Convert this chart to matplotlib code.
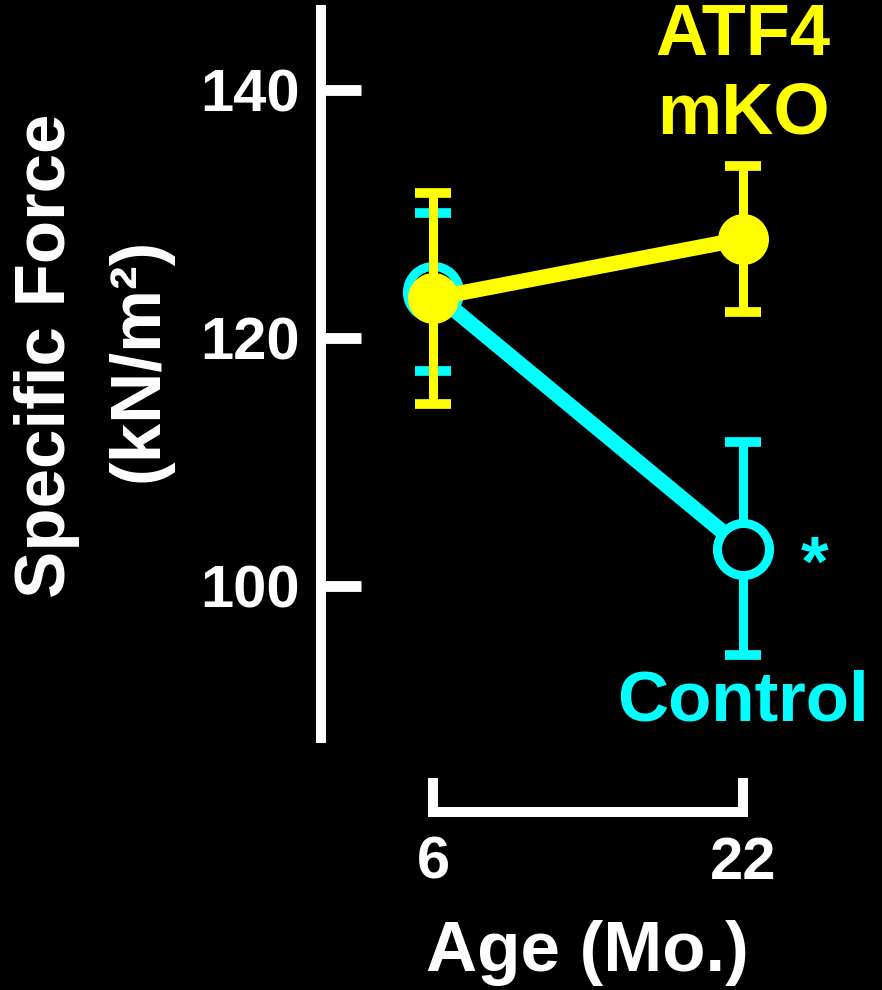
import matplotlib
matplotlib.use("Agg")
import matplotlib.pyplot as plt

# data
ages = [6, 22]
ctrl_mean = [123.7, 103.0]
ctrl_err = [6.4, 8.6]
ko_mean = [123.2, 128.0]
ko_err = [8.5, 5.9]

yticks = [100, 120, 140]

CYAN = "#00FFFF"
YELLOW = "#FFFF00"
W, H = 882, 990

plt.rcParams["font.family"] = ["Liberation Sans", "DejaVu Sans"]
plt.rcParams["font.weight"] = "bold"

fig = plt.figure(figsize=(W / 100, H / 100), dpi=100, facecolor="black")
ax = fig.add_axes([321 / W, 1 - 738 / H, 1 - 321 / W, (738 - 10) / H], facecolor="black")
ax.set_xlim(0.22, 29.17)
ax.set_ylim(87.74, 146.45)

# control: open circles
ax.errorbar(ages, ctrl_mean, yerr=ctrl_err, fmt="none", ecolor=CYAN,
            elinewidth=6.5, capsize=13, capthick=7, zorder=2)
ax.plot(ages, ctrl_mean, color=CYAN, lw=11, marker="o", ms=37.5,
        mfc="black", mec=CYAN, mew=6.5, zorder=3, solid_capstyle="round")

# ATF4 mKO: filled circles
ax.errorbar(ages, ko_mean, yerr=ko_err, fmt="none", ecolor=YELLOW,
            elinewidth=6.5, capsize=13, capthick=7, zorder=4)
ax.plot(ages, ko_mean, color=YELLOW, lw=11, marker="o", ms=36.7,
        mfc=YELLOW, mec=YELLOW, mew=0, zorder=5)

# spines / ticks
for s in ["top", "right"]:
    ax.spines[s].set_visible(False)
ax.spines["left"].set_color("white")
ax.spines["left"].set_linewidth(7.2)
ax.spines["bottom"].set_color("white")
ax.spines["bottom"].set_linewidth(7.2)
ax.spines["bottom"].set_position(("outward", 53.3))
ax.spines["bottom"].set_bounds(ages[0], ages[1])
ax.spines["bottom"].set_capstyle("projecting")

ax.set_yticks(yticks)
ax.set_yticklabels([str(v) for v in yticks])
ax.set_xticks(ages)
ax.set_xticklabels([str(a) for a in ages])
ax.tick_params(axis="y", direction="in", length=28.8, width=7.8, color="white",
               labelcolor="white", labelsize=43, pad=15)
ax.tick_params(axis="x", direction="in", length=24.5, width=7.2, color="white",
               labelcolor="white", labelsize=43, pad=17)
for lbl in ax.get_yticklabels():
    lbl.set_verticalalignment("center_baseline")

# labels
ax.text(22, 141.2, "ATF4\nmKO", color=YELLOW, fontsize=52, fontweight="bold",
        ha="center", va="center", linespacing=1.2, clip_on=False)
ax.text(22, 90.6, "Control", color=CYAN, fontsize=51, fontweight="bold",
        ha="center", va="center", clip_on=False)
ax.text(25.7, 101.5, "*", color=CYAN, fontsize=51, fontweight="bold",
        ha="center", va="center", clip_on=False)

fig.text(47 / W, 1 - 356 / H, "Specific Force", color="white", fontsize=51,
         fontweight="bold", rotation=90, ha="center", va="center")
fig.text(140 / W, 1 - 360 / H, "(kN/m²)", color="white", fontsize=51,
         fontweight="bold", rotation=90, ha="center", va="center")
fig.text(587 / W, 1 - 953 / H, "Age (Mo.)", color="white", fontsize=51,
         fontweight="bold", ha="center", va="center")

fig.savefig("out.png", dpi=100, facecolor="black")
